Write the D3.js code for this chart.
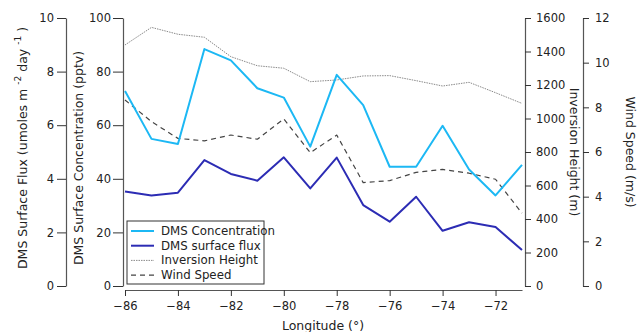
<!DOCTYPE html>
<html>
<head>
<meta charset="utf-8">
<script src="https://cdn.jsdelivr.net/npm/d3@7"></script>
<style>
  body { margin: 0; background: #fff; }
  text { font-family: "DejaVu Sans", sans-serif; fill: #222; }
</style>
</head>
<body>
<svg id="chart" width="638" height="332"></svg>
<script>
// longitude (deg) along the bottom
var longitude = [-86, -85, -84, -83, -82, -81, -80, -79, -78, -77, -76, -75, -74, -73, -72, -71];
// DMS surface concentration (pptv)
var dmsConc = [72.8, 54.9, 53, 88.4, 84.2, 73.8, 70.3, 52, 78.8, 67.5, 44.5, 44.5, 59.8, 43.5, 33.8, 45.2];
// DMS surface flux (umoles m-2 day-1)
var dmsFlux = [3.53, 3.38, 3.48, 4.7, 4.18, 3.93, 4.8, 3.64, 4.79, 3.02, 2.4, 3.33, 2.06, 2.38, 2.2, 1.34];
// inversion height (m)
var invHeight = [1439, 1544, 1503, 1485, 1369, 1315, 1300, 1220, 1230, 1254, 1256, 1226, 1194, 1216, 1154, 1090];
// wind speed (m/s)
var windSpeed = [8.33, 7.36, 6.61, 6.5, 6.76, 6.57, 7.48, 5.97, 6.76, 4.63, 4.72, 5.09, 5.22, 5.05, 4.78, 3.26];

var xTicks = [-86, -84, -82, -80, -78, -76, -74, -72];
var concTicks = [0, 20, 40, 60, 80, 100];
var fluxTicks = [0, 2, 4, 6, 8, 10];
var invTicks = [0, 200, 400, 600, 800, 1000, 1200, 1400, 1600];
var windTicks = [0, 2, 4, 6, 8, 10, 12];

var svg = d3.select("#chart");
var top_ = 18, bottom_ = 286;

var x = d3.scaleLinear().domain([-86, -71]).range([125, 522]);
var yConc = d3.scaleLinear().domain([0, 100]).range([bottom_, top_]);
var yFlux = d3.scaleLinear().domain([0, 10]).range([bottom_, top_]);
var yInv = d3.scaleLinear().domain([0, 1600]).range([bottom_, top_]);
var yWind = d3.scaleLinear().domain([0, 12]).range([bottom_, top_]);

var fmt = d3.format("d");

function styleAxis(g) {
  g.selectAll("path.domain").attr("stroke", "#555").attr("stroke-width", 1.2);
  g.selectAll(".tick line").attr("stroke", "#333");
  g.selectAll(".tick text").attr("font-size", 11.5).attr("fill", "#222")
    .attr("font-family", "DejaVu Sans, sans-serif");
}

// axes
svg.append("g").attr("transform", "translate(0,290)")
  .call(d3.axisBottom(x).tickValues(xTicks).tickFormat(fmt).tickSize(6).tickPadding(6).tickSizeOuter(0))
  .call(styleAxis);

svg.append("g").attr("transform", "translate(123,0)")
  .call(d3.axisLeft(yConc).tickValues(concTicks).tickFormat(fmt).tickSize(10).tickPadding(2).tickSizeOuter(0))
  .call(styleAxis);

svg.append("g").attr("transform", "translate(66,0)")
  .call(d3.axisLeft(yFlux).tickValues(fluxTicks).tickFormat(fmt).tickSize(9).tickPadding(3).tickSizeOuter(0))
  .call(styleAxis);

svg.append("g").attr("transform", "translate(525,0)")
  .call(d3.axisRight(yInv).tickValues(invTicks).tickFormat(fmt).tickSize(6).tickPadding(5).tickSizeOuter(0))
  .call(styleAxis);

svg.append("g").attr("transform", "translate(583,0)")
  .call(d3.axisRight(yWind).tickValues(windTicks).tickFormat(fmt).tickSize(6).tickPadding(6).tickSizeOuter(0))
  .call(styleAxis);

// axis titles
var fluxTitle = svg.append("text").attr("transform", "translate(27,148) rotate(-90)")
  .attr("text-anchor", "middle").attr("font-size", 12.5);
fluxTitle.append("tspan").text("DMS Surface Flux (umoles m ");
fluxTitle.append("tspan").attr("dy", -6).attr("font-size", 9).text("-2");
fluxTitle.append("tspan").attr("dy", 6).text(" day ");
fluxTitle.append("tspan").attr("dy", -6).attr("font-size", 9).text("-1");
fluxTitle.append("tspan").attr("dy", 6).text(" )");

svg.append("text").attr("transform", "translate(83,158) rotate(-90)")
  .attr("text-anchor", "middle").attr("font-size", 12.5)
  .text("DMS Surface Concentration (pptv)");

svg.append("text").attr("transform", "translate(570,152) rotate(90)")
  .attr("text-anchor", "middle").attr("font-size", 12.5)
  .text("Inversion Height (m)");

svg.append("text").attr("transform", "translate(626,152) rotate(90)")
  .attr("text-anchor", "middle").attr("font-size", 12.5)
  .text("Wind Speed (m/s)");

svg.append("text").attr("x", 323).attr("y", 330)
  .attr("text-anchor", "middle").attr("font-size", 12.5)
  .text("Longitude (°)");

// series
var series = [
  { name: "Inversion Height", vals: invHeight, y: yInv, color: "#8a8a8a", width: 1, dash: "1.5,1" },
  { name: "Wind Speed", vals: windSpeed, y: yWind, color: "#444", width: 1.2, dash: "5,4" },
  { name: "DMS surface flux", vals: dmsFlux, y: yFlux, color: "#2c2cb4", width: 2, dash: null },
  { name: "DMS Concentration", vals: dmsConc, y: yConc, color: "#1cb8f4", width: 2, dash: null }
];

series.forEach(function(s) {
  var line = d3.line()
    .x(function(d, i) { return x(longitude[i]); })
    .y(function(d) { return s.y(d); });
  svg.append("path").datum(s.vals)
    .attr("d", line)
    .attr("fill", "none")
    .attr("stroke", s.color)
    .attr("stroke-width", s.width)
    .attr("stroke-dasharray", s.dash)
    .attr("stroke-linejoin", "round");
});

// legend
var legendOrder = ["DMS Concentration", "DMS surface flux", "Inversion Height", "Wind Speed"];
var lg = svg.append("g").attr("transform", "translate(127,221)");
lg.append("rect").attr("width", 137).attr("height", 63)
  .attr("fill", "#fff").attr("stroke", "#333").attr("stroke-width", 1);
legendOrder.forEach(function(name, i) {
  var s = series.find(function(d) { return d.name === name; });
  var yy = 10 + i * 14.7;
  lg.append("line").attr("x1", 4).attr("x2", 27).attr("y1", yy).attr("y2", yy)
    .attr("stroke", s.color).attr("stroke-width", s.width)
    .attr("stroke-dasharray", s.dash);
  lg.append("text").attr("x", 34).attr("y", yy + 4).attr("font-size", 11.8)
    .text(name);
});
</script>
</body>
</html>
